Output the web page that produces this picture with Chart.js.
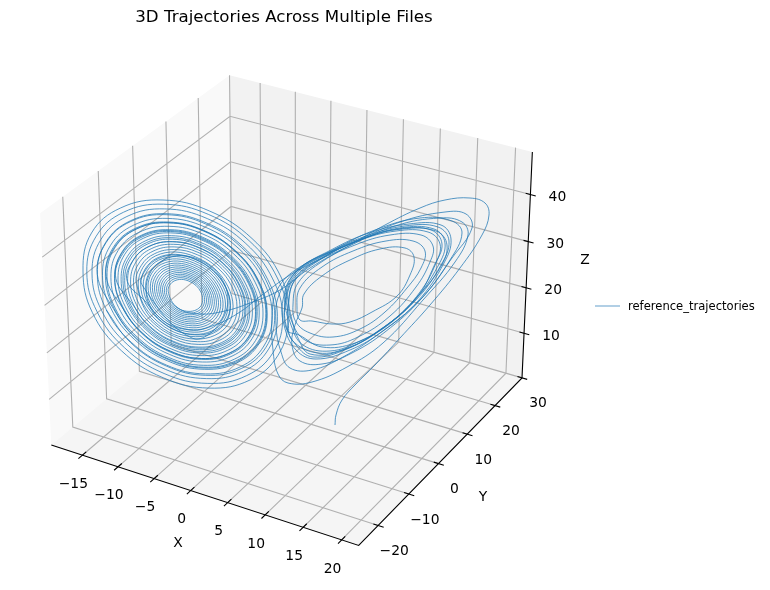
<!DOCTYPE html>
<html>
<head>
<meta charset="utf-8">
<title>3D Trajectories</title>
<script src="https://cdn.jsdelivr.net/npm/chart.js@4/dist/chart.umd.min.js"></script>
<style>
  html, body { margin: 0; padding: 0; background: #fff; }
  canvas { display: block; }
</style>
</head>
<body>
<canvas id="plot" width="770" height="590"></canvas>
<script>
// axis values
const xLimits = [-19.4, 22.2];
const yLimits = [-26.2, 30.0];
const zLimits = [0.0, 48.9];
const xTicks = [-15, -10, -5, 0, 5, 10, 15, 20];
const yTicks = [-20, -10, 0, 10, 20, 30];
const zTicks = [10, 20, 30, 40];

const titleText = "3D Trajectories Across Multiple Files";
const seriesName = "reference_trajectories";

// trajectory in view-plane units, one row per turn
const tailX = [335,336,342,355,375,400,430,460,482,489,485,470,445,420,385,350,310,280,250,225,200,178];
const tailY = [425,415,400,385,365,338,305,268,235,215,203,198,200,208,225,245,268,290,303,311,314,308];

const coreX = [
  168.2,174.3,188.9,200.9,201.1,189,173.5,
  166.3,173.2,189.3,202.6,202.8,189.5,172.3,
  164.4,172,189.7,204.3,204.5,189.9,171.2,
  162.5,170.8,190.1,206,206.2,190.3,170,
  160.6,169.6,190.5,207.7,207.9,190.7,168.8,
  158.7,168.4,191,209.5,209.7,191.2,167.5,
  156.6,167.1,191.5,211.4,211.6,191.7,166.2,
  154.5,165.8,191.9,213.2,213.5,192.1,164.9,
  152.4,164.5,192.4,215.1,215.4,192.6,163.6,
  150.3,163.2,192.9,217.1,217.4,193.1,162.1,
  148,161.7,193.4,219.2,219.5,193.6,160.7,
  145.7,160.3,193.9,221.4,221.7,194.2,159.2,
  143.2,158.7,194.5,223.6,223.9,194.7,157.6,
  140.7,157.1,195,225.9,226.2,195.3,156,
  138.2,155.5,195.6,228.2,228.6,195.9,154.3
];
const coreY = [
  291.1,280.9,281.1,292,305.6,311.4,304.9,
  290.6,279.3,279.6,291.7,306.7,313.1,305.9,
  290.2,277.7,278.1,291.4,307.8,314.8,306.9,
  289.7,276.2,276.6,291.1,308.9,316.6,307.9,
  289.3,274.6,275.1,290.8,310,318.3,309,
  288.8,273,273.5,290.4,311.2,320.1,310.1,
  288.4,271.3,271.8,290.1,312.4,322,311.2,
  287.9,269.5,270.2,289.7,313.7,323.9,312.3,
  287.4,267.8,268.5,289.4,314.9,325.8,313.4,
  286.9,266,266.8,289,316.2,327.8,314.7,
  286.3,264.1,264.9,288.6,317.6,329.9,315.9,
  285.8,262.2,263,288.2,319,332.2,317.3,
  285.2,260.1,261,287.8,320.5,334.4,318.6,
  284.6,258,259,287.4,322,336.7,320,
  284,255.9,256.9,287,323.6,339.1,321.4
];

const midX = [
  136.4,141.2,154.8,174.8,197.2,217.6,231.8,237,232.2,218.1,197.5,174.4,153.5,138.9,
  133.5,138.5,153,174.2,197.9,219.4,234.4,240,234.8,219.9,198.2,173.8,151.7,136.2,
  130.6,135.9,151.2,173.5,198.5,221.2,237.1,242.9,237.5,221.8,198.8,173.1,149.8,133.6,
  127.6,133.2,149.3,172.8,199.2,223.1,239.7,245.9,240.1,223.6,199.5,172.5,148,130.9,
  124.7,130.7,147.6,172.3,199.8,224.6,241.8,248.1,242,224.8,199.9,172.1,147,129.5,
  123,129.1,146.6,171.9,200.1,225.6,243.3,249.7,243.5,225.9,200.3,171.7,145.9,128,
  121.1,127.3,145.3,171.4,200.6,227.1,245.6,252.4,246,227.7,200.9,171,143.9,125.1,
  118,124.5,143.3,170.7,201.4,229.1,248.4,255.5,248.8,229.6,201.6,170.3,142,122.2,
  114.6,121.5,141.1,169.9,202.1,231.3,251.7,259.2,252.2,232,202.5,169.5,139.5,118.6,
  110.9,118.1,138.8,169.1,203,233.7,255.1,263,255.5,234.3,203.3,168.6,137.2,115.2,
  107,114.6,136.4,168.2,203.9,236.2,258.8,267.2,259.4,237,204.3,167.6,134.4,111.2,
  102.5,110.4,133.5,167.1,204.9,239.3,263.2,272.1,263.9,240.2,205.4,166.5,131.2,106.4,
  97.3,105.7,130.2,166,206.1,242.5,267.9,277.4,268.6,243.4,206.6,165.3,127.9,101.7,
  92,101,126.9,164.8,207.3,245.8,272.7,282.6,273.3,246.7,207.8,164.1,124.6,97,
  86.8,96.2,123.6,163.6,208.4,249.1,277.4,287.9,278,250,208.9,163,121.4,92.3,
  83,91.5,120.5,163,209.5,252,281,292
];
const midY = [
  283.4,265.6,253.6,249.6,254.7,267.8,286.5,307,325.3,337.6,341.7,336.5,323,303.8,
  282.7,263.9,251.2,246.9,252.3,266.2,286,307.6,327,340.1,344.4,338.8,324.6,304.3,
  282,262.1,248.7,244.3,250,264.7,285.5,308.3,328.7,342.5,347.1,341.2,326.1,304.8,
  281.3,260.4,246.3,241.6,247.6,263.1,285,309,330.5,344.9,349.7,343.6,327.7,305.2,
  280.6,258.7,244,239.2,245.6,261.8,284.6,309.5,331.7,346.6,351.4,345,328.6,305.5,
  280.2,257.7,242.6,237.7,244.3,260.9,284.3,309.9,332.7,348,353,346.3,329.5,305.8,
  279.8,256.6,240.9,235.7,242.4,259.6,283.9,310.5,334.3,350.3,355.6,348.8,331.2,306.3,
  279.1,254.7,238.3,232.9,239.9,257.9,283.4,311.3,336.2,352.9,358.5,351.3,332.9,306.9,
  278.3,252.7,235.4,229.7,237,256,282.8,312.1,338.4,356.1,362,354.4,335,307.5,
  277.4,250.5,232.4,226.3,234.1,253.9,282.2,313,340.6,359.2,365.3,357.4,337,308.2,
  276.5,248.2,229.1,222.7,230.8,251.7,281.4,314,343.1,362.8,369.3,360.9,339.4,308.9,
  275.4,245.5,225.2,218.4,227,249.1,280.6,315.2,346,366.9,373.9,365.1,342.2,309.8,
  274.2,242.4,220.9,213.7,222.8,246.3,279.8,316.4,349.1,371.3,378.6,369.3,345,310.7,
  273,239.3,216.5,208.9,218.6,243.5,278.9,317.6,352.2,375.6,383.4,373.5,347.8,311.6,
  271.8,236.2,212.2,204.2,214.4,240.7,278,318.9,355.3,380,388.1,377.7,350.7,312.4,
  271,233,208,200,211,238.5,277,320
];

const rightX = [
  298,310,343,378,413,438,445,434,400,362,325,296,286,286,
  296,313,347,380,415,441,449,438,405,366,328,294,283,284,
  296,316,350,383,418,444,451,441,409,369,331,297,285,288,
  292,318,350,382,414,440,447,436,402,364,327,295,285,287,
  299,322,355,387,418,434,442,431,398,360,324,296,288,291,
  303,330,360,392,420,436,440,428,396,358,323,296,289,292,
  305,330,358,390,416,430,433,421,390,355,323,298,293,296,
  310,333,360,385,407,421,425,413,386,353,322,300,297,300,
  312,332,350,372,397,410,414,405,380,350,322,304,302,
  295,292,300,322,350,385,422,450,462,452,420,375,335,298,279,276,
  281,290,312,343,380,420,452,472,466,445,400,350,300,277,272,
  273,278,288,312,347,383,423,455,468,462,440,395,345,295,262,
  240,215,190,160,146,160,195,225,222,192
];
const rightY = [
  338,354,350,331,302,266,243,229,228,239,256,276,300,325,
  345,357,349,330,301,265,241,227,226,236,253,274,300,325,
  350,359,350,331,301,263,239,225,224,233,250,271,296,320,
  340,353,347,329,300,268,245,231,229,238,254,275,305,330,
  335,347,343,325,296,266,244,230,229,240,257,278,305,325,
  345,351,341,322,292,263,244,232,231,241,258,279,300,322,
  340,345,337,316,287,262,246,235,235,245,261,283,305,322,
  333,337,329,312,288,268,251,241,241,251,267,288,308,320,
  321,324,322,312,296,275,257,248,249,260,276,294,308,
  325,345,361,364,354,332,298,260,233,221,218,230,249,269,295,325,
  352,368,370,357,333,300,258,228,214,212,222,244,267,290,320,
  350,374,383,382,367,343,300,262,235,222,218,226,248,272,295,
  312,325,330,318,290,262,258,285,320,338
];

// later passes back through the left lobe
const returnX = [
  141.9,146.3,158.5,176.2,195.8,213.5,225.7,230.1,225.7,213.5,195.8,176.2,158.5,146.3,
  127.2,133,149.3,172.9,199.1,222.7,239,244.8,239,222.7,199.1,172.9,149.3,133,
  115.9,122.8,142.2,170.4,201.6,229.8,249.2,256.1,249.2,229.8,201.6,170.4,142.2,122.8,
  114.8,121.9,141.6,170.1,201.9,230.4,250.1,257.2,250.1,230.4,201.9,170.1,141.6,121.9,
  106.2,114.1,136.2,168.2,203.8,235.8,257.9,265.8,257.9,235.8,203.8,168.2,136.2,114.1,
  105.4,113.3,135.7,168,204,236.3,258.7,266.6,258.7,236.3,204,168,135.7,113.3,
  97.3,106.1,130.7,166.2,205.8,241.3,265.9,274.7,265.9,241.3,205.8,166.2,130.7,106.1
];
const returnY = [
  284.7,269,258.5,255.1,259.7,271.3,287.6,305.3,321,331.5,334.9,330.3,318.7,302.4,
  281.2,260.3,246.3,241.8,248,263.4,285.1,308.8,329.7,343.7,348.2,342,326.6,304.9,
  278.6,253.6,236.9,231.5,238.9,257.3,283.2,311.4,336.4,353.1,358.5,351.1,332.7,306.8,
  278.3,253,236,230.6,238,256.8,283.1,311.7,337,354,359.4,352,333.2,306.9,
  276.3,247.9,228.9,222.8,231.2,252.1,281.6,313.7,342.1,360.9,367.2,358.8,337.9,308.4,
  276.1,247.4,228.2,222,230.5,251.7,281.5,313.9,342.5,361.8,368,359.5,338.3,308.5,
  274.2,242.6,221.5,214.7,224,247.3,280.1,315.8,347.4,368.5,375.3,366,342.7,309.9
];

// view: elevation 30, azimuth -60, box aspect 4:4:3, camera distance 10
const boxSize = [1.1905, 1.1905, 0.8929];
const elev = 30 * Math.PI / 180;
const azim = -60 * Math.PI / 180;
const eyeDir = [Math.cos(elev) * Math.cos(azim), Math.cos(elev) * Math.sin(azim), Math.sin(elev)];
const rightDir = [-Math.sin(azim), Math.cos(azim), 0];
const upDir = [-Math.sin(elev) * Math.cos(azim), -Math.sin(elev) * Math.sin(azim), Math.cos(elev)];

function dot(a, b) {
  return a[0] * b[0] + a[1] * b[1] + a[2] * b[2];
}

function project(x, y, z) {
  const p = [
    ((x - xLimits[0]) / (xLimits[1] - xLimits[0]) - 0.5) * boxSize[0],
    ((y - yLimits[0]) / (yLimits[1] - yLimits[0]) - 0.5) * boxSize[1],
    ((z - zLimits[0]) / (zLimits[1] - zLimits[0]) - 0.5) * boxSize[2]
  ];
  const depth = 10 - dot(p, eyeDir);
  return { x: 291 + 2958 * dot(p, rightDir) / depth, y: 299 - 2958 * dot(p, upDir) / depth };
}

const gap = { x: NaN, y: NaN };
const [x0, x1] = xLimits;
const [y0, y1] = yLimits;
const [z0, z1] = zLimits;
const xSpan = x1 - x0;
const ySpan = y1 - y0;

function poly(corners) {
  return corners.map(c => project(c[0], c[1], c[2]));
}

// grid lines run across the floor and up the back walls
let gridPoints = [];
xTicks.forEach(v => gridPoints.push(project(v, y0, z0), project(v, y1, z0), project(v, y1, z1), gap));
yTicks.forEach(v => gridPoints.push(project(x1, v, z0), project(x0, v, z0), project(x0, v, z1), gap));
zTicks.forEach(v => gridPoints.push(project(x0, y0, v), project(x0, y1, v), project(x1, y1, v), gap));

let tickPoints = [];
xTicks.forEach(v => tickPoints.push(project(v, y0 + 0.02 * ySpan, z0), project(v, y0 - 0.02 * ySpan, z0), gap));
yTicks.forEach(v => tickPoints.push(project(x1 - 0.015 * xSpan, v, z0), project(x1 + 0.017 * xSpan, v, z0), gap));
zTicks.forEach(v => tickPoints.push(project(x1 - 0.015 * xSpan, y1, v), project(x1 + 0.017 * xSpan, y1, v), gap));

const axisPoints = [
  project(x0, y0, z0), project(x1, y0, z0), project(x1, y1, z0), project(x1, y1, z1)
];

function zip(xs, ys) {
  return xs.map((v, i) => ({ x: v, y: ys[i] }));
}

const trajectory = zip(
  tailX.concat(coreX, midX, rightX, returnX),
  tailY.concat(coreY, midY, rightY, returnY)
);

function lineSet(data, color, width) {
  return { data: data, borderColor: color, borderWidth: width, pointRadius: 0, showLine: true, spanGaps: false, fill: false };
}

function paneSet(data, color) {
  return { data: data, backgroundColor: color, borderWidth: 0, pointRadius: 0, showLine: true, fill: 'shape' };
}

function tickText(v) {
  return v < 0 ? "\u2212" + Math.abs(v) : String(v);
}

// text layer: title, tick labels, axis names and the legend
const textLayer = {
  id: 'textLayer',
  afterDraw(chart) {
    const ctx = chart.ctx;
    const sx = chart.scales.x;
    const sy = chart.scales.y;
    const at = (p, dx, dy) => [sx.getPixelForValue(p.x) + dx, sy.getPixelForValue(p.y) + dy];
    const put = (text, pos) => ctx.fillText(text, pos[0], pos[1]);

    ctx.save();
    ctx.fillStyle = '#000';
    ctx.textAlign = 'center';
    ctx.textBaseline = 'middle';

    ctx.font = '16.67px "DejaVu Sans"';
    ctx.fillText(titleText, 284, 18);

    ctx.font = '13.89px "DejaVu Sans"';
    xTicks.forEach(v => put(tickText(v), at(project(v, y0, z0), -9, 29)));
    yTicks.forEach(v => put(tickText(v), at(project(x1, v, z0), 16, 26)));
    zTicks.forEach(v => put(tickText(v), at(project(x1, y1, v), 27, 3)));

    ctx.fillText("X", 178, 543);
    ctx.fillText("Y", 483, 497);
    ctx.fillText("Z", 585, 260);

    // legend entry
    ctx.strokeStyle = '#1f77b4';
    ctx.lineWidth = 0.7;
    ctx.beginPath();
    ctx.moveTo(595, 306);
    ctx.lineTo(620, 306);
    ctx.stroke();
    ctx.textAlign = 'left';
    ctx.font = '11.57px "DejaVu Sans"';
    ctx.fillText(seriesName, 628, 306.5);
    ctx.restore();
  }
};

// chart.js paints the first dataset last, so the trajectory comes first
new Chart(document.getElementById('plot'), {
  type: 'scatter',
  data: {
    datasets: [
      Object.assign(lineSet(trajectory, '#1f77b4', 0.75), { label: seriesName, tension: 0.4 }),
      lineSet(tickPoints, '#000000', 1.1),
      lineSet(axisPoints, '#000000', 1.1),
      lineSet(gridPoints, '#b0b0b0', 1.1),
      paneSet(poly([[x0, y0, z0], [x1, y0, z0], [x1, y1, z0], [x0, y1, z0]]), '#f5f5f5'),
      paneSet(poly([[x0, y1, z0], [x1, y1, z0], [x1, y1, z1], [x0, y1, z1]]), '#f2f2f2'),
      paneSet(poly([[x0, y0, z0], [x0, y1, z0], [x0, y1, z1], [x0, y0, z1]]), '#f9f9f9')
    ]
  },
  options: {
    responsive: false,
    animation: false,
    layout: { padding: 0 },
    plugins: { legend: { display: false }, tooltip: { enabled: false }, title: { display: false } },
    scales: {
      x: { type: 'linear', display: false, min: 0, max: 770 },
      y: { type: 'linear', display: false, min: 0, max: 590, reverse: true }
    }
  },
  plugins: [textLayer]
});
</script>
</body>
</html>
